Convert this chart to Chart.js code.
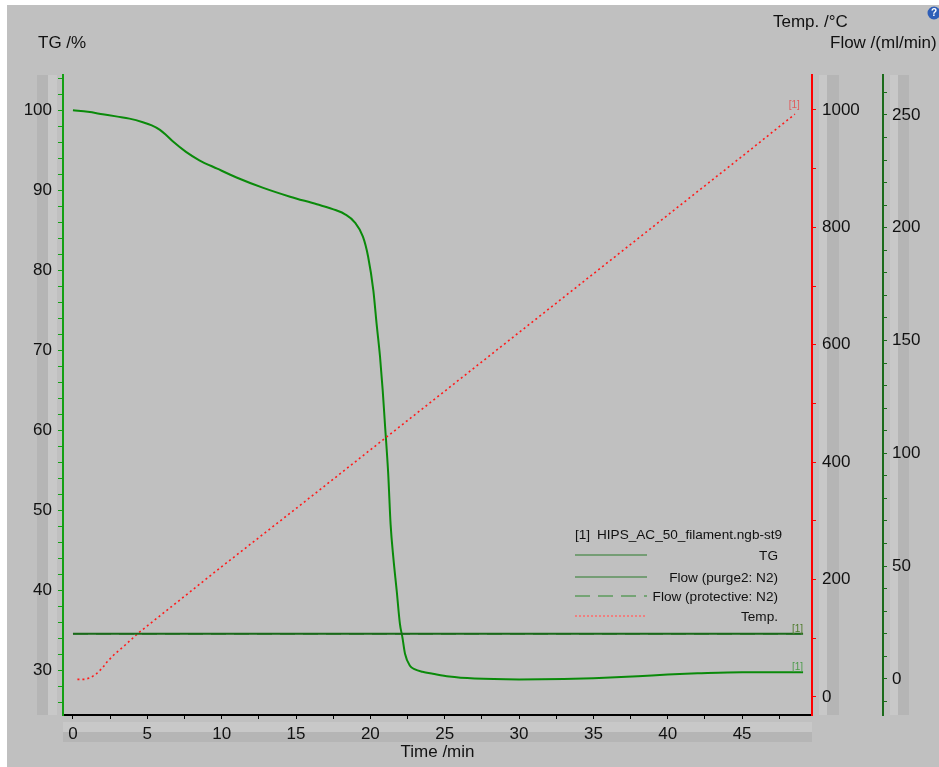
<!DOCTYPE html>
<html>
<head>
<meta charset="utf-8">
<script src="https://cdn.jsdelivr.net/npm/chart.js@4.4.1/dist/chart.umd.min.js"></script>
<style>
  html, body { margin: 0; padding: 0; background: #fff; }
  #wrap { position: relative; width: 939px; height: 767px; }
</style>
</head>
<body>
<div id="wrap"><canvas id="tgChart" width="939" height="767"></canvas></div>
<script>
// tick labels
const timeTicks = [0, 5, 10, 15, 20, 25, 30, 35, 40, 45];
const tgTicks = [30, 40, 50, 60, 70, 80, 90, 100];
const tempTicks = [0, 200, 400, 600, 800, 1000];
const flowTicks = [0, 50, 100, 150, 200, 250];

// TG curve (time /min, mass /%)
const tgTime = [0, 1, 2, 3, 3.8, 4.7, 5.3, 5.85, 6.3, 6.75, 7.6, 8.5, 9.7, 11, 12.8, 14.6, 16.4, 17.7, 18.3, 18.95,
  19.5, 19.85, 20.2, 20.42, 20.65, 20.83, 20.98, 21.2, 21.36, 21.54, 21.77, 21.99, 22.15, 22.33, 22.66,
  23.0, 23.5, 24.2, 25.3, 27, 30, 33, 35, 38, 40, 42, 45, 48, 49.1];
const tgValues = [100, 99.8, 99.5, 99.2, 98.95, 98.5, 98.1, 97.55, 96.85, 96.05, 94.8, 93.75, 92.7, 91.6, 90.3, 89.2,
  88.25, 87.5, 87, 86, 84.2, 81.7, 77.5, 73.3, 69.2, 65, 60.8, 54.6, 48.3, 44.2, 40, 35.8, 34.2, 32.1, 30.6,
  30.15, 29.85, 29.6, 29.25, 29.0, 28.9, 28.95, 29.05, 29.3, 29.5, 29.65, 29.8, 29.8, 29.8];

// temperature (time /min, °C)
const tempTime = [0.3, 0.8, 1.2, 1.6, 2.0, 2.3, 2.8, 3.4, 4.4, 10, 15, 20, 25, 30, 35, 40, 45, 48.55];
const tempValues = [30, 30, 33, 40, 50, 60, 73, 86, 109, 222, 321, 421, 521, 621, 721, 821, 921, 993];

// flows (time /min, ml/min)
const flowTime = [0, 49.1];
const flowPurge = [20, 20];
const flowProtective = [20, 20];

const FONT = '"Liberation Sans", Arial, sans-serif';
const GREEN = '#0a8a0a';
const DARKGREEN = '#1a6a1a';
const RED = '#ff0000';

const pts = (xs, ys) => xs.map((x, i) => ({ x: x, y: ys[i] }));

// minor tick marks at every multiple of step inside the axis range
const minorTicks = step => s => {
  const out = [];
  for (let k = Math.ceil(s.min / step - 1e-9); k * step <= s.max + 1e-9; k++) {
    out.push({ value: Math.round(k * step * 1000) / 1000 });
  }
  s.ticks = out;
};

const decor = {
  id: 'decor',
  beforeDraw(chart) {
    const c = chart.ctx, a = chart.chartArea;
    const tempAx = chart.scales.temp, flowAx = chart.scales.flow;
    const h = a.bottom - a.top;
    c.save();
    c.fillStyle = '#fff';
    c.fillRect(0, 0, chart.width, chart.height);
    c.fillStyle = '#c0c0c0';
    c.fillRect(7, 5, chart.width - 7, chart.height - 5);
    // label strips beside the axes
    const strip = (x, w, y, hh, col) => { c.fillStyle = col; c.fillRect(x, y, w, hh); };
    strip(a.left - 26, 11, a.top, h, '#b5b5b5');
    strip(a.left - 15, 9, a.top, h, '#c8c8c8');
    strip(tempAx.left + 7, 8, a.top, h, '#c8c8c8');
    strip(tempAx.left + 15, 12, a.top, h, '#b5b5b5');
    strip(flowAx.left + 7, 8, a.top, h, '#c8c8c8');
    strip(flowAx.left + 15, 11, a.top, h, '#b5b5b5');
    strip(a.left, a.right - a.left, a.bottom + 7, 10, '#c8c8c8');
    strip(a.left, a.right - a.left, a.bottom + 17, 10, '#b5b5b5');
    c.restore();
  },
  afterDraw(chart) {
    const c = chart.ctx;
    const xs = chart.scales.x;
    c.save();
    // axis titles
    c.font = '17px ' + FONT;
    c.fillStyle = '#111';
    c.textBaseline = 'middle';
    c.textAlign = 'left';
    c.fillText('TG /%', 38, 43);
    c.fillText('Temp. /\u00B0C', 773, 22);
    c.fillText('Flow /(ml/min)', 830, 43);

    // help icon
    c.fillStyle = '#2f5fb8';
    c.beginPath();
    c.arc(934, 13, 6.5, 0, Math.PI * 2);
    c.fill();
    c.fillStyle = '#fff';
    c.font = 'bold 10px ' + FONT;
    c.textAlign = 'center';
    c.fillText('?', 934, 13.5);

    // legend
    const lx0 = 575, lx1 = 647, rx = 778;
    c.font = '13.6px ' + FONT;
    c.fillStyle = '#111';
    c.textAlign = 'left';
    c.fillText('[1]', lx0, 535);
    c.fillText('HIPS_AC_50_filament.ngb-st9', 597, 535);
    const rows = [
      { label: 'TG', y: 555, color: '#2a7a2a', dash: [], w: 1.2 },
      { label: 'Flow (purge2: N2)', y: 577, color: '#2a7a2a', dash: [], w: 1.2 },
      { label: 'Flow (protective: N2)', y: 596, color: '#5c9a5c', dash: [15, 8], w: 1.5 },
      { label: 'Temp.', y: 616, color: '#ff6a6a', dash: [2, 2], w: 1.5 }
    ];
    rows.forEach(r => {
      c.strokeStyle = r.color;
      c.lineWidth = r.w;
      c.setLineDash(r.dash);
      c.beginPath();
      c.moveTo(lx0, r.y);
      c.lineTo(lx1, r.y);
      c.stroke();
      c.setLineDash([]);
      c.textAlign = 'right';
      c.fillText(r.label, rx, r.y + 1);
    });

    // [1] end markers
    c.font = '10px ' + FONT;
    c.textBaseline = 'alphabetic';
    const mark = (scaleId, tx, ty, col, dx, dy) => {
      const px = xs.getPixelForValue(tx), py = chart.scales[scaleId].getPixelForValue(ty);
      c.fillStyle = col;
      c.textAlign = 'right';
      c.fillText('[1]', px + dx, py + dy);
    };
    mark('temp', tempTime[tempTime.length - 1], tempValues[tempValues.length - 1], '#e05a5a', 5, -6);
    mark('flow', flowTime[flowTime.length - 1], flowPurge[flowPurge.length - 1], '#4d7a2a', 0, -2);
    mark('tg', tgTime[tgTime.length - 1], tgValues[tgValues.length - 1], '#4a9a4a', 0, -2);
    c.restore();
  }
};

const tickFont = { family: FONT, size: 17 };

new Chart(document.getElementById('tgChart'), {
  type: 'line',
  data: {
    datasets: [
      {
        label: 'Flow (protective: N2)',
        data: pts(flowTime, flowProtective),
        yAxisID: 'flow',
        borderColor: DARKGREEN,
        borderWidth: 1.2,
        borderDash: [15, 8],
        pointRadius: 0
      },
      {
        label: 'Flow (purge2: N2)',
        data: pts(flowTime, flowPurge),
        yAxisID: 'flow',
        borderColor: DARKGREEN,
        borderWidth: 2,
        pointRadius: 0
      },
      {
        label: 'Temp.',
        data: pts(tempTime, tempValues),
        yAxisID: 'temp',
        borderColor: '#ff1a1a',
        borderWidth: 1.6,
        borderDash: [2, 3],
        pointRadius: 0
      },
      {
        label: 'TG',
        data: pts(tgTime, tgValues),
        yAxisID: 'tg',
        borderColor: GREEN,
        borderWidth: 2,
        cubicInterpolationMode: 'monotone',
        pointRadius: 0
      }
    ]
  },
  options: {
    responsive: false,
    animation: false,
    layout: { padding: { top: 75, left: 0, right: 0, bottom: 0 } },
    plugins: {
      legend: { display: false },
      tooltip: { enabled: false }
    },
    scales: {
      x: {
        type: 'linear',
        position: 'bottom',
        min: -0.67,
        max: 49.7,
        border: { color: '#000', width: 2 },
        grid: { drawOnChartArea: false, color: '#000', tickLength: 4 },
        ticks: {
          autoSkip: false, maxRotation: 0,
          padding: 5, color: '#111', font: tickFont,
          callback: v => timeTicks.includes(v) ? v : ''
        },
        title: { display: true, text: 'Time /min', color: '#111', font: tickFont, padding: { top: 0, bottom: 4 } },
        afterBuildTicks: minorTicks(2.5),
        afterFit: s => { s.height = 52; }
      },
      tg: {
        type: 'linear',
        position: 'left',
        min: 24.45,
        max: 104.4,
        border: { color: '#14a014', width: 2 },
        grid: { drawOnChartArea: false, color: '#14a014', tickLength: 5 },
        ticks: {
          autoSkip: false,
          padding: 6, color: '#111', font: tickFont,
          callback: v => tgTicks.includes(v) ? v : ''
        },
        afterBuildTicks: minorTicks(2),
        afterFit: s => { s.width = 63; }
      },
      temp: {
        type: 'linear',
        position: 'right',
        min: -30.7,
        max: 1059.6,
        border: { color: RED, width: 2 },
        grid: { drawOnChartArea: false, color: RED, tickLength: 4 },
        ticks: {
          autoSkip: false,
          padding: 6, color: '#111', font: tickFont,
          callback: v => tempTicks.includes(v) ? v : ''
        },
        afterBuildTicks: minorTicks(100),
        afterFit: s => { s.width = 71; }
      },
      flow: {
        type: 'linear',
        position: 'right',
        min: -16,
        max: 267.7,
        border: { color: DARKGREEN, width: 2 },
        grid: { drawOnChartArea: false, color: DARKGREEN, tickLength: 4 },
        ticks: {
          autoSkip: false,
          padding: 5, color: '#111', font: tickFont,
          callback: v => flowTicks.includes(v) ? v : ''
        },
        afterBuildTicks: minorTicks(10),
        afterFit: s => { s.width = 56; }
      }
    }
  },
  plugins: [decor]
});
</script>
</body>
</html>
